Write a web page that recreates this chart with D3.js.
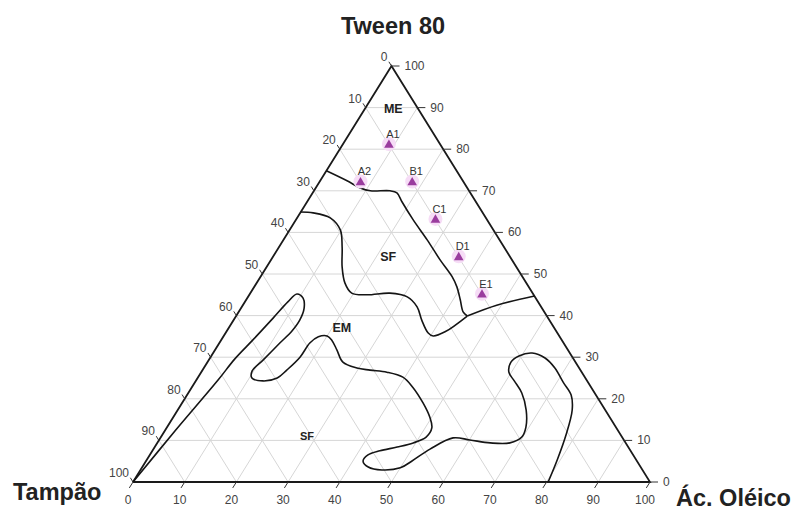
<!DOCTYPE html>
<html lang="pt">
<head>
<meta charset="UTF-8">
<title>Diagrama ternário</title>
<script src="https://d3js.org/d3.v7.min.js"></script>
<style>
  body { margin: 0; background: #fff; }
  text { font-family: "Liberation Sans", Arial, sans-serif; }
</style>
</head>
<body>
<svg id="chart" width="792" height="514"></svg>
<script>
// composition values in % : [Ác. Oléico, Tween 80]  (Tampão = 100 - both)
const tickValues = [0, 10, 20, 30, 40, 50, 60, 70, 80, 90, 100];

const pointNames = ["A1", "A2", "B1", "C1", "D1", "E1"];
const pointTween = [81, 72, 72, 63, 54, 45];
const pointOleic = [9, 8, 18, 27, 36, 45];

const regionNames = ["ME", "SF", "EM", "SF"];
const regionTween = [89.7, 54.1, 37.0, 11.1];
const regionOleic = [5.5, 22.3, 21.9, 28.1];

// ME / SF boundary, left edge to junction
const boundaryME = [[0, 74.8], [5.2, 72.4], [8.6, 70.7], [10.9, 70.0], [14.7, 70.0], [16.3, 69.5],
  [18.4, 67.3], [22.7, 63.0], [27.8, 58.2], [32.7, 53.4], [37.1, 49.3], [39.2, 46.9],
  [41.4, 43.8], [43.4, 40.9], [44.7, 39.9]];
// junction to right edge
const boundaryRight = [[44.7, 39.9], [49.1, 42.5], [55.3, 44.7]];
// SF (upper) / EM boundary
const boundarySF = [[0, 64.9], [2.5, 64.7], [6.4, 63.5], [9.8, 60.6], [12.2, 56.5], [14.6, 51.7],
  [17.1, 47.8], [19.6, 45.4], [22.8, 45.0], [27.0, 45.4], [30.8, 44.5], [33.9, 42.1],
  [36.4, 38.9], [39.2, 35.8], [40.5, 35.1], [42.3, 36.1], [44.7, 39.9]];
// EM / SF (lower) boundary
const boundaryEM = [[0, 0], [2.0, 12.3], [4.2, 24.5], [4.9, 29.6], [6.1, 34.1], [7.4, 39.4],
  [8.3, 43.3], [9.1, 45.2], [10.8, 44.2], [12.2, 41.8], [12.8, 38.9], [12.6, 36.3],
  [11.7, 33.4], [10.5, 29.3], [9.7, 26.7], [10.5, 25.0], [13.0, 24.3], [15.4, 25.0],
  [16.3, 26.9], [17.3, 30.0], [17.5, 33.4], [18.4, 34.9], [20.0, 35.1], [21.4, 34.1],
  [23.6, 31.7], [26.2, 28.8], [29.6, 27.4], [32.4, 26.9], [35.9, 26.4], [39.6, 25.2],
  [42.7, 22.8], [46.6, 19.0], [49.6, 15.6], [51.3, 13.0], [51.3, 10.8], [49.5, 9.4],
  [46.9, 8.4], [44.0, 7.5], [42.2, 6.5], [42.0, 5.0], [43.7, 3.6], [46.7, 2.9],
  [50.0, 3.4], [51.4, 5.0], [53.5, 7.9], [56.6, 10.6], [60.1, 10.1], [64.4, 9.4],
  [68.2, 9.4], [69.8, 10.8], [69.4, 13.2], [67.4, 17.3], [64.5, 21.4], [61.6, 24.3],
  [59.5, 26.4], [58.7, 28.8], [59.5, 30.3], [61.7, 31.0], [64.8, 29.8], [67.9, 27.4],
  [71.2, 24.0], [74.3, 20.9], [76.3, 17.3], [78.1, 11.3], [79.4, 5.3], [80.3, 0]];

const svg = d3.select("#chart");

// ternary frame: base from Tampão corner to Ác. Oléico corner, apex = Tween 80
const x = d3.scaleLinear().domain([0, 100]).range([133, 650]);
const y = d3.scaleLinear().domain([0, 100]).range([482, 66]);
const px = (o, t) => x(o + t / 2);
const py = (o, t) => y(t);

// unit vector along the slanted edge direction (for tick marks)
const dx = x(50) - x(0), dy = y(100) - y(0);
const len = Math.sqrt(dx * dx + dy * dy);
const ux = dx / len, uy = dy / len;   // up-right along left edge
const tickLen = 7;

const grid = svg.append("g").attr("stroke", "#d6d6d6").attr("stroke-width", 1);
tickValues.slice(1, -1).forEach(k => {
  // constant Tween
  grid.append("line").attr("x1", px(0, k)).attr("y1", py(0, k)).attr("x2", px(100 - k, k)).attr("y2", py(100 - k, k));
  // constant Ác. Oléico
  grid.append("line").attr("x1", px(k, 0)).attr("y1", py(k, 0)).attr("x2", px(k, 100 - k)).attr("y2", py(k, 100 - k));
  // constant Tampão
  grid.append("line").attr("x1", px(100 - k, 0)).attr("y1", py(100 - k, 0)).attr("x2", px(0, 100 - k)).attr("y2", py(0, 100 - k));
});

// triangle outline
const frame = [[0, 0], [100, 0], [0, 100], [0, 0]];
svg.append("path")
  .attr("d", d3.line().x(d => px(d[0], d[1])).y(d => py(d[0], d[1]))(frame))
  .attr("fill", "none").attr("stroke", "#1a1a1a").attr("stroke-width", 1.8);

const axes = svg.append("g").attr("fill", "#444").style("font-size", "12px");

// bottom axis: Ác. Oléico
tickValues.forEach(k => {
  const x0 = px(k, 0), y0 = py(k, 0);
  axes.append("line").attr("x1", x0).attr("y1", y0).attr("x2", x0 - ux * tickLen).attr("y2", y0 - uy * tickLen)
    .attr("stroke", "#333").attr("stroke-width", 1);
  axes.append("text").attr("x", x0 - 5).attr("y", 504).attr("text-anchor", "middle").text(k);
});

// right axis: Tween 80
tickValues.forEach(k => {
  const x0 = px(100 - k, k), y0 = py(100 - k, k);
  axes.append("line").attr("x1", x0).attr("y1", y0).attr("x2", x0 + tickLen + 1).attr("y2", y0)
    .attr("stroke", "#333").attr("stroke-width", 1);
  axes.append("text").attr("x", x0 + 13).attr("y", y0 + 4).text(k);
});

// left axis: Tampão
tickValues.forEach(k => {
  const x0 = px(0, 100 - k), y0 = py(0, 100 - k);
  axes.append("line").attr("x1", x0).attr("y1", y0).attr("x2", x0 - ux * 5).attr("y2", y0 + uy * 5)
    .attr("stroke", "#333").attr("stroke-width", 1);
  axes.append("text").attr("x", x0 - 4).attr("y", y0 - 5).attr("text-anchor", "end").text(k);
});

// phase boundaries
const curve = d3.line()
  .x(d => px(d[0], d[1]))
  .y(d => py(d[0], d[1]))
  .curve(d3.curveCatmullRom.alpha(0.5));

[boundaryME, boundaryRight, boundarySF, boundaryEM].forEach(b => {
  svg.append("path").attr("d", curve(b))
    .attr("fill", "none").attr("stroke", "#151515").attr("stroke-width", 1.6)
    .attr("stroke-linejoin", "round");
});

// region labels
regionNames.forEach((name, i) => {
  svg.append("text")
    .attr("x", px(regionOleic[i], regionTween[i]))
    .attr("y", py(regionOleic[i], regionTween[i]))
    .attr("dy", "0.35em")
    .attr("text-anchor", "middle")
    .style("font-size", i === 3 ? "11px" : "12.5px")
    .style("font-weight", "bold")
    .attr("fill", "#222")
    .text(name);
});

// formulations
const pts = svg.append("g");
pointNames.forEach((name, i) => {
  const cx = px(pointOleic[i], pointTween[i]), cy = py(pointOleic[i], pointTween[i]);
  pts.append("circle").attr("cx", cx).attr("cy", cy - 1).attr("r", 7).attr("fill", "#f6dcf6");
  pts.append("path")
    .attr("d", d3.symbol().type(d3.symbolTriangle).size(40)())
    .attr("transform", `translate(${cx},${cy})`)
    .attr("fill", "#9a3c9e");
  pts.append("text").attr("x", cx + 4).attr("y", cy - 11).attr("dy", "0.35em")
    .attr("text-anchor", "middle").style("font-size", "11px").attr("fill", "#333").text(name);
});

// vertex titles
svg.append("text").attr("x", 393).attr("y", 34).attr("text-anchor", "middle")
  .style("font-size", "23.5px").style("font-weight", "bold").attr("fill", "#222").text("Tween 80");
svg.append("text").attr("x", 13).attr("y", 500)
  .style("font-size", "23.5px").style("font-weight", "bold").attr("fill", "#222").text("Tampão");
svg.append("text").attr("x", 676).attr("y", 506)
  .style("font-size", "23.5px").style("font-weight", "bold").attr("fill", "#222").text("Ác. Oléico");
</script>
</body>
</html>
